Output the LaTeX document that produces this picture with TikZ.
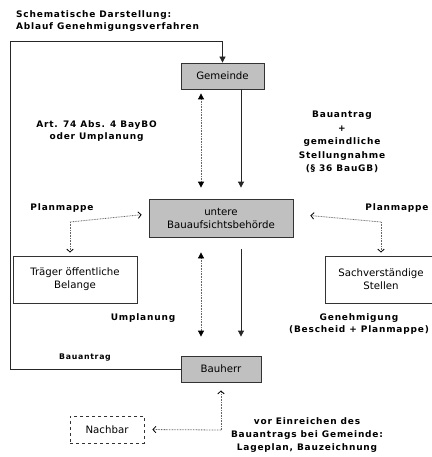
\documentclass[tikz,border=0pt]{standalone}
\usepackage{fontspec}
\setmainfont{DejaVu Sans}
\newfontfamily\lblfont[LetterSpace=9]{DejaVu Sans}
\usetikzlibrary{arrows.meta}
\definecolor{boxgray}{RGB}{192,192,192}
\tikzset{
  grayBox/.style={draw=black!80, fill=boxgray, line width=0.8pt, inner sep=0pt, font=\fontsize{10.2}{13}\selectfont, align=center},
  whiteBox/.style={draw=black!80, fill=white, line width=0.8pt, inner sep=0pt, font=\fontsize{10.2}{13}\selectfont, align=center},
  lbl/.style={font=\lblfont\bfseries\fontsize{9}{12.5}\selectfont, align=center, inner sep=0pt},
  solidArrow/.style={line width=0.8pt, black!85, -{Triangle[length=6pt,width=6pt]}},
  dotLine/.style={line width=0.8pt, black!60, dash pattern=on 0.8pt off 0.8pt},
  dotDouble/.style={dotLine, {Triangle[length=6pt,width=6pt,color=black]}-{Triangle[length=6pt,width=6pt,color=black]}},
  dotOpen/.style={dotLine, -{Straight Barb[length=3pt,width=6.5pt,line width=0.8pt,color=black]}}
}
\begin{document}
\begin{tikzpicture}[x=1pt,y=-1pt]
\useasboundingbox (0,0) rectangle (431,457);
% title
\node[lbl, anchor=west, align=left, font=\lblfont\bfseries\fontsize{9}{12}\selectfont] (title) at (16,21) {Schematische Darstellung:\\Ablauf Genehmigungsverfahren};
% boxes
\node[grayBox, minimum width=83pt, minimum height=26pt] (gem) at (222.5,76) {Gemeinde};
\node[grayBox, minimum width=144pt, minimum height=38pt] (ub) at (221,218) {untere\\Bauaufsichtsbehörde};
\node[grayBox, minimum width=80pt, minimum height=26pt] (bh) at (221,369) {Bauherr};
\node[whiteBox, minimum width=124pt, minimum height=47pt] (tr) at (75,279.5) {Träger öffentliche\\Belange};
\node[whiteBox, minimum width=112pt, minimum height=47pt] (sv) at (381,279.5) {Sachverständige\\Stellen};
\node[whiteBox, dashed, minimum width=74pt, minimum height=27pt] (nb) at (107,429.5) {Nachbar};
% labels
\node[lbl] (l1) at (96.5,131) {Art. 74 Abs. 4 BayBO\\oder Umplanung};
\node[lbl, font=\lblfont\bfseries\fontsize{9}{13.5}\selectfont] (l2) at (342,142) {Bauantrag\\+\\gemeindliche\\Stellungnahme\\(§ 36 BauGB)};
\node[lbl] (l3) at (62,208) {Planmappe};
\node[lbl] (l4) at (397,208) {Planmappe};
\node[lbl] (l5) at (143,318) {Umplanung};
\node[lbl, font=\lblfont\bfseries\fontsize{9}{12}\selectfont] (l6) at (359,324) {Genehmigung\\(Bescheid + Planmappe)};
\node[lbl, font=\lblfont\bfseries\fontsize{7.8}{10}\selectfont] (l7) at (85,357) {Bauantrag};
\node[lbl, font=\lblfont\bfseries\fontsize{9}{13}\selectfont] (l8) at (307,435) {vor Einreichen des\\Bauantrags bei Gemeinde:\\Lageplan, Bauzeichnung};
% loop Bauherr -> Gemeinde
\coordinate (lb) at (10,369);
\coordinate (lt) at (10,41);
\coordinate (tt) at (222.5,41);
\draw[solidArrow] (bh.west) -- (lb) -- (lt) -- (tt) -- (gem.north);
% Gemeinde <-> untere
\draw[dotDouble, shorten <=4pt, shorten >=11pt] ([xshift=-21.5pt]gem.south) -- ([xshift=-20pt]ub.north);
\draw[solidArrow, shorten >=11pt] ([xshift=18.5pt]gem.south) -- ([xshift=20pt]ub.north);
% untere <-> Bauherr
\draw[dotDouble, shorten <=15pt, shorten >=19pt] ([xshift=-20pt]ub.south) -- ([xshift=-20pt]bh.north);
\draw[solidArrow, shorten <=12pt, shorten >=19pt] ([xshift=20pt]ub.south) -- ([xshift=20pt]bh.north);
% Planmappe left
\coordinate (cl) at (70,222);
\draw[dotOpen, shorten >=7pt] (cl) -- ([yshift=4pt]ub.west);
\draw[dotOpen, shorten >=3pt] (cl) -- (cl |- tr.north);
% Planmappe right
\coordinate (cr) at (381,222);
\draw[dotOpen, shorten >=17pt] (cr) -- ([yshift=4pt]ub.east);
\draw[dotOpen, shorten >=3pt] (cr) -- (cr |- sv.north);
% Nachbar
\coordinate (cn) at (221,430);
\draw[dotOpen, shorten >=8pt] (cn) -- (bh.south);
\draw[dotOpen, shorten >=8pt] (cn) -- (nb.east);
\end{tikzpicture}
\end{document}
